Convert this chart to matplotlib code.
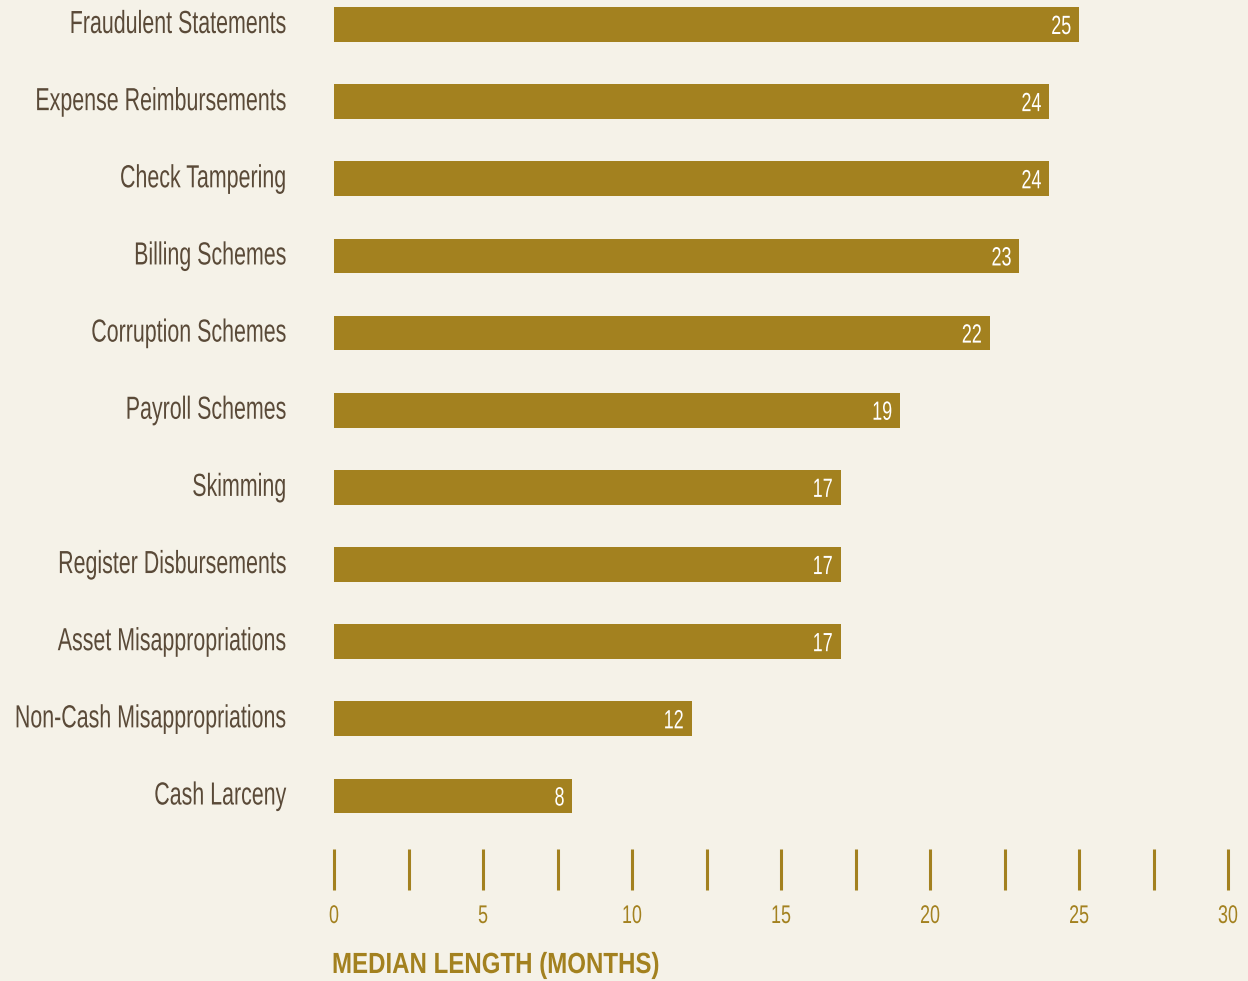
import matplotlib
matplotlib.use("Agg")
import matplotlib.pyplot as plt
from matplotlib.patheffects import AbstractPathEffect
from matplotlib.transforms import Affine2D, blended_transform_factory

# データ（上から順）
categories = ["Fraudulent Statements", "Expense Reimbursements", "Check Tampering",
              "Billing Schemes", "Corruption Schemes", "Payroll Schemes", "Skimming",
              "Register Disbursements", "Asset Misappropriations",
              "Non-Cash Misappropriations", "Cash Larceny"]
months = [25, 24, 24, 23, 22, 19, 17, 17, 17, 12, 8]
x_ticks = [0, 5, 10, 15, 20, 25, 30]
x_label = "MEDIAN LENGTH (MONTHS)"

BG = "#f5f2e8"
GOLD = "#a3811f"
TEXT = "#5a4a38"

plt.rcParams["font.family"] = ["Liberation Sans", "DejaVu Sans"]


class Tall(AbstractPathEffect):
    """ベースライン基準で縦に伸ばす（コンデンス書体の代わり）。"""

    def __init__(self, sy):
        super().__init__()
        self.sy = sy

    def draw_path(self, renderer, gc, tpath, affine, rgbFace=None):
        renderer.draw_path(gc, tpath, Affine2D().scale(1, self.sy) + affine, rgbFace)


def condensed(size, sx):
    # 見た目の字高 = size、字幅 = sx 倍
    return dict(fontsize=size * sx, path_effects=[Tall(1 / sx)])


W, H = 1248, 981
fig = plt.figure(figsize=(W / 100, H / 100), dpi=100, facecolor=BG)
ax = fig.add_axes([334 / W, 1 - 890 / H, (1228 - 334) / W, 890 / H], facecolor=BG)

unit = 77.15  # 1カテゴリ分の高さ(px)
pxx = (1228 - 334) / 30  # x 1単位あたりの px

ypos = list(range(len(categories)))
ax.barh(ypos, months, height=0.45, color=GOLD)
for y, v in zip(ypos, months):
    ax.text(v - 8 / pxx, y + 9.5 / unit, str(v), ha="right", va="baseline",
            color="white", **condensed(19, 0.68))

for y, c in zip(ypos, categories):
    ax.text(-48 / pxx, y + 8.5 / unit, c, ha="right", va="baseline", color=TEXT,
            clip_on=False, **condensed(23, 0.67))

ax.set_xlim(0, 30)
ax.set_ylim((890 - 24.5) / unit, -24.5 / unit)
ax.set_yticks([])

ax.set_xticks([i * 2.5 for i in range(13)])
ax.set_xticklabels([])
ax.tick_params(axis="x", direction="in", length=29.5, width=2.2, color=GOLD)
for s in ax.spines.values():
    s.set_visible(False)

tr = blended_transform_factory(ax.transData, ax.transAxes)
for t in x_ticks:
    ax.text(t, -(923 - 890) / 890, str(t), transform=tr, ha="center", va="baseline",
            color=GOLD, clip_on=False, **condensed(18.4, 0.7))

fig.text(332 / W, 1 - 973 / H, x_label, ha="left", va="baseline",
         fontweight="bold", color=GOLD, **condensed(21, 0.825))

fig.savefig("out.png", dpi=100, facecolor=BG)
